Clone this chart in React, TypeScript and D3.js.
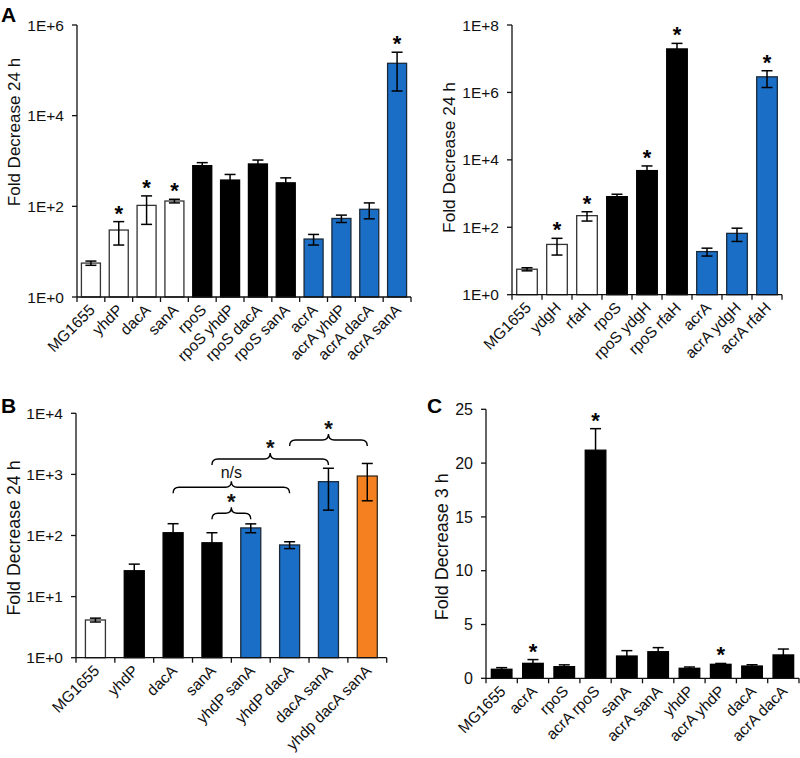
import React from "react";
import * as d3 from "d3";

// ---------- Panel A (left) ----------
const catsA1 = ["MG1655", "yhdP", "dacA", "sanA", "rpoS", "rpoS yhdP", "rpoS dacA", "rpoS sanA", "acrA", "acrA yhdP", "acrA dacA", "acrA sanA"];
const valsA1 = [5.6, 30, 105, 131, 790, 380, 860, 330, 19, 54, 86, 143000];
const errA1 = [0.6, 16, 65, 12, 130, 125, 190, 95, 5, 10, 33, 108000];
const grpA1 = ["w", "w", "w", "w", "k", "k", "k", "k", "b", "b", "b", "b"];
const starA1 = [false, true, true, true, false, false, false, false, false, false, false, true];
const ticksA1 = [1, 1e2, 1e4, 1e6];

// ---------- Panel A (right) ----------
const catsA2 = ["MG1655", "ydgH", "rfaH", "rpoS", "rpoS ydgH", "rpoS rfaH", "acrA", "acrA ydgH", "acrA rfaH"];
const valsA2 = [5.7, 31, 221, 810, 4800, 1.95e7, 19, 66, 2.9e6];
const errA2 = [0.6, 16, 68, 145, 1800, 9e6, 5, 28, 1.5e6];
const grpA2 = ["w", "w", "w", "k", "k", "k", "b", "b", "b"];
const starA2 = [false, true, true, false, true, true, false, false, true];
const ticksA2 = [1, 1e2, 1e4, 1e6, 1e8];

// ---------- Panel B ----------
const catsB = ["MG1655", "yhdP", "dacA", "sanA", "yhdP sanA", "yhdP dacA", "dacA sanA", "yhdp dacA sanA"];
const valsB = [4.14, 26.5, 111, 76, 133, 70, 760, 940];
const errB = [0.3, 7.5, 45, 35, 22, 9, 500, 570];
const grpB = ["w", "k", "k", "k", "b", "b", "b", "o"];
const starB = [false, false, false, false, false, false, false, false];
const ticksB = [1, 10, 100, 1000, 10000];
const bracketsB = [
  { from: 3, to: 4, level: 231, label: "*" },
  { from: 2, to: 5, level: 615, label: "n/s" },
  { from: 3, to: 6, level: 1786, label: "*" },
  { from: 5, to: 7, level: 3655, label: "*" },
];

// ---------- Panel C ----------
const catsC = ["MG1655", "acrA", "rpoS", "acrA rpoS", "sanA", "acrA sanA", "yhdP", "acrA yhdP", "dacA", "acrA dacA"];
const valsC = [0.84, 1.39, 1.08, 21.2, 2.07, 2.47, 0.93, 1.3, 1.14, 2.17];
const errC = [0.15, 0.35, 0.17, 2.0, 0.5, 0.38, 0.12, 0.08, 0.12, 0.55];
const grpC = ["k", "k", "k", "k", "k", "k", "k", "k", "k", "k"];
const starC = [false, true, false, true, false, false, false, true, false, false];
const ticksC = [0, 5, 10, 15, 20, 25];

const FONT = "'Liberation Sans', Arial, Helvetica, sans-serif";
const fills: Record<string, string> = { w: "#ffffff", k: "#000000", b: "#1B6EC6", o: "#F58020" };
const strokes: Record<string, string> = { w: "#333333", k: "#000000", b: "#1a2a3a", o: "#3a2a1a" };

type PanelProps = {
  cats: string[]; vals: number[]; errs: number[]; grp: string[]; stars: boolean[];
  log: boolean; domain: [number, number]; ticks: number[]; fmt: (v: number) => string;
  x0: number; x1: number; yTop: number; yBot: number; barW: number;
  title: string; titleX: number; titleY: number; titleSize: number;
  tickSize: number; catSize: number;
  brackets?: { from: number; to: number; level: number; label: string }[];
};

function Panel(p: PanelProps) {
  const y = p.log
    ? d3.scaleLog().domain(p.domain).range([p.yBot, p.yTop])
    : d3.scaleLinear().domain(p.domain).range([p.yBot, p.yTop]);
  const x = d3.scaleBand().domain(p.cats).range([p.x0, p.x1]).paddingInner(0).paddingOuter(0);
  const bw = x.bandwidth();
  const cx = (c: string) => (x(c) as number) + bw / 2;
  const lowClamp = (v: number) => Math.max(v, p.domain[0]);
  const boundaries = d3.range(p.cats.length + 1).map((i) => p.x0 + i * bw);

  return (
    <g fontFamily={FONT}>
      {p.cats.map((c, i) => {
        const top = y(p.vals[i]);
        return (
          <rect key={"b" + i} x={cx(c) - p.barW / 2} y={top} width={p.barW} height={p.yBot - top}
            fill={fills[p.grp[i]]} stroke={strokes[p.grp[i]]} strokeWidth={1.3} />
        );
      })}
      {p.cats.map((c, i) => {
        const hi = y(p.vals[i] + p.errs[i]);
        const lo = y(lowClamp(p.vals[i] - p.errs[i]));
        const xc = cx(c);
        return (
          <g key={"e" + i} stroke="#000" strokeWidth={1.5}>
            <line x1={xc} x2={xc} y1={hi} y2={lo} />
            <line x1={xc - 5.5} x2={xc + 5.5} y1={hi} y2={hi} />
            <line x1={xc - 5.5} x2={xc + 5.5} y1={lo} y2={lo} />
          </g>
        );
      })}
      {p.cats.map((c, i) =>
        p.stars[i] ? (
          <text key={"s" + i} x={cx(c)} y={y(p.vals[i] + p.errs[i]) - 1} textAnchor="middle"
            fontSize={22} fontWeight="bold" fill="#000">*</text>
        ) : null
      )}
      <line x1={p.x0} x2={p.x0} y1={p.yTop} y2={p.yBot} stroke="#111" strokeWidth={1.3} />
      <line x1={p.x0} x2={p.x1} y1={p.yBot} y2={p.yBot} stroke="#111" strokeWidth={1.3} />
      {p.ticks.map((t, i) => (
        <g key={"t" + i}>
          <line x1={p.x0 - 5} x2={p.x0} y1={y(t)} y2={y(t)} stroke="#111" strokeWidth={1.3} />
          <text x={p.x0 - 13} y={y(t)} dy="0.36em" textAnchor="end" fontSize={p.tickSize} fill="#111">{p.fmt(t)}</text>
        </g>
      ))}
      {boundaries.map((bx, i) => (
        <line key={"xt" + i} x1={bx} x2={bx} y1={p.yBot} y2={p.yBot + 5} stroke="#111" strokeWidth={1.3} />
      ))}
      {p.cats.map((c, i) => (
        <text key={"c" + i} transform={`translate(${cx(c) + 5},${p.yBot + 14}) rotate(-45)`}
          textAnchor="end" fontSize={p.catSize} fill="#111">{c}</text>
      ))}
      <text transform={`translate(${p.titleX},${p.titleY}) rotate(-90)`} textAnchor="middle"
        fontSize={p.titleSize} fill="#111">{p.title}</text>
      {(p.brackets || []).map((b, i) => {
        const xa = cx(p.cats[b.from]);
        const xb = cx(p.cats[b.to]);
        const yl = y(b.level);
        const m = (xa + xb) / 2;
        const r = 6;
        const path = `M${xa},${yl + r} Q${xa},${yl} ${xa + r},${yl} L${m - r},${yl} Q${m},${yl} ${m},${yl - r} Q${m},${yl} ${m + r},${yl} L${xb - r},${yl} Q${xb},${yl} ${xb},${yl + r}`;
        const isStar = b.label === "*";
        return (
          <g key={"br" + i}>
            <path d={path} fill="none" stroke="#000" strokeWidth={1.4} />
            <text x={m} y={isStar ? yl - 4.5 : yl - 9.5} textAnchor="middle"
              fontSize={isStar ? 22 : 16} fontWeight={isStar ? "bold" : "normal"} fill="#111">{b.label}</text>
          </g>
        );
      })}
    </g>
  );
}

const expFmt = (v: number) => "1E+" + Math.round(Math.log10(v));
const linFmt = (v: number) => String(v);

export default function App() {
  return (
    <svg width={800} height={758} style={{ position: "absolute", left: 0, top: 0, display: "block", background: "#fff" }}>
      <rect width={800} height={758} fill="#fff" />
      <Panel cats={catsA1} vals={valsA1} errs={errA1} grp={grpA1} stars={starA1} log domain={[1, 1e6]}
        ticks={ticksA1} fmt={expFmt} x0={77} x1={411} yTop={25} yBot={297} barW={19}
        title="Fold Decrease 24 h" titleX={20} titleY={132} titleSize={17} tickSize={15.5} catSize={15.5} />
      <Panel cats={catsA2} vals={valsA2} errs={errA2} grp={grpA2} stars={starA2} log domain={[1, 1e8]}
        ticks={ticksA2} fmt={expFmt} x0={512} x1={782} yTop={25} yBot={294.7} barW={20.6}
        title="Fold Decrease 24 h" titleX={455} titleY={157.5} titleSize={17.3} tickSize={15.5} catSize={15.5} />
      <Panel cats={catsB} vals={valsB} errs={errB} grp={grpB} stars={starB} log domain={[1, 1e4]}
        ticks={ticksB} fmt={expFmt} x0={76} x1={386.7} yTop={413.3} yBot={657.7} barW={20}
        title="Fold Decrease 24 h" titleX={20} titleY={538} titleSize={17.8} tickSize={15.5} catSize={15.5}
        brackets={bracketsB} />
      <Panel cats={catsC} vals={valsC} errs={errC} grp={grpC} stars={starC} log={false} domain={[0, 25]}
        ticks={ticksC} fmt={linFmt} x0={486} x1={799} yTop={409.3} yBot={678.3} barW={20.6}
        title="Fold Decrease 3 h" titleX={448} titleY={546.7} titleSize={18} tickSize={16} catSize={15.5} />
      <g fontFamily={FONT} fontWeight="bold" fontSize={21} fill="#000">
        <text x={1} y={22}>A</text>
        <text x={1} y={413}>B</text>
        <text x={427} y={413}>C</text>
      </g>
    </svg>
  );
}
